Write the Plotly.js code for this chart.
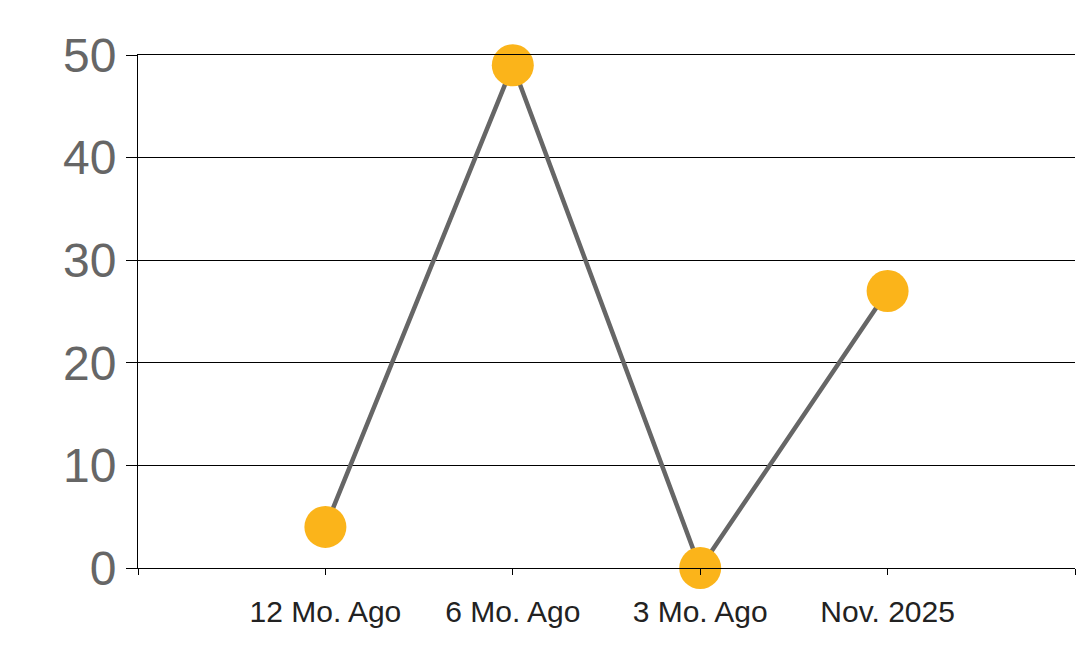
<!DOCTYPE html>
<html>
<head>
<meta charset="utf-8">
<script src="https://cdn.plot.ly/plotly-3.0.1.min.js"></script>
<style>html,body{margin:0;padding:0;background:#fff;}#chart{width:1078px;height:663px;}</style>
</head>
<body>
<div id="chart"></div>
<script>
var categories = ["12 Mo. Ago", "6 Mo. Ago", "3 Mo. Ago", "Nov. 2025"];
var values = [4, 49, 0, 27];
var yTicks = [0, 10, 20, 30, 40, 50];

var xIdx = categories.map(function (c, i) { return i; });
var tickVals = [-1].concat(xIdx).concat([categories.length]);
var tickText = [""].concat(categories).concat([""]);

var trace = {
  x: xIdx,
  y: values,
  type: "scatter",
  mode: "lines+markers",
  line: { color: "#666666", width: 4.5 },
  marker: { color: "#FBB41A", size: 42 },
  cliponaxis: false,
  hoverinfo: "skip"
};

var layout = {
  width: 1078,
  height: 663,
  margin: { l: 138, r: 3, t: 55, b: 95 },
  paper_bgcolor: "#ffffff",
  plot_bgcolor: "#ffffff",
  showlegend: false,
  font: { family: "Liberation Sans, Arial, sans-serif" },
  xaxis: {
    range: [-1, categories.length],
    tickmode: "array",
    tickvals: tickVals,
    ticktext: tickText,
    showgrid: false,
    zeroline: false,
    showline: true,
    mirror: true,
    linecolor: "#000000",
    linewidth: 1,
    ticks: "outside",
    ticklen: 6,
    tickcolor: "#000000",
    tickfont: { size: 30, color: "#222222" },
    ticklabelstandoff: 11
  },
  yaxis: {
    range: [0, 50],
    tickmode: "array",
    tickvals: yTicks,
    showgrid: true,
    gridcolor: "#000000",
    gridwidth: 1,
    zeroline: false,
    showline: true,
    linecolor: "#000000",
    linewidth: 1,
    ticks: "outside",
    ticklen: 11,
    tickcolor: "#000000",
    tickfont: { size: 48, color: "#666666" },
    ticklabelstandoff: 0
  }
};

Plotly.newPlot("chart", [trace], layout, { displayModeBar: false, staticPlot: true });
</script>
</body>
</html>
